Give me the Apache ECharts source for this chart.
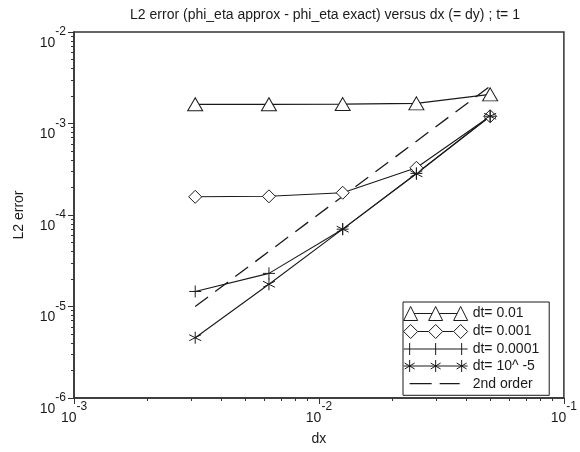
<!DOCTYPE html>
<html>
<head>
<meta charset="utf-8">
<script src="https://cdn.jsdelivr.net/npm/echarts@6/dist/echarts.min.js"></script>
<style>
  html, body { margin: 0; padding: 0; background: #fff; }
  #chart { width: 580px; height: 452px; }
</style>
</head>
<body>
<div id="chart"></div>
<script>
// grid spacing dx (= dy)
const dx = [0.003125, 0.00625, 0.0125, 0.025, 0.05];
// L2 error for each time step
const errDt001 = [1.62e-3, 1.62e-3, 1.63e-3, 1.66e-3, 2.08e-3];
const errDt0001 = [1.58e-4, 1.6e-4, 1.75e-4, 3.28e-4, 1.2e-3];
const errDt00001 = [1.46e-5, 2.3e-5, 7.0e-5, 2.85e-4, 1.2e-3];
const errDt1e5 = [4.56e-6, 1.75e-5, 7.0e-5, 2.82e-4, 1.2e-3];
// reference slope line
const order2X = [0.003125, 0.05];
const order2Y = [1.0e-5, 2.56e-3];

const xMajor = [1e-3, 1e-2, 1e-1];
const yMajor = [1e-6, 1e-5, 1e-4, 1e-3, 1e-2];
const xMinor = [2e-3, 3e-3, 4e-3, 5e-3, 6e-3, 7e-3, 8e-3, 9e-3,
                2e-2, 3e-2, 4e-2, 5e-2, 6e-2, 7e-2, 8e-2, 9e-2];
const yMinor = [2e-6, 3e-6, 4e-6, 5e-6, 6e-6, 7e-6, 8e-6, 9e-6,
                2e-5, 3e-5, 4e-5, 5e-5, 6e-5, 7e-5, 8e-5, 9e-5,
                2e-4, 3e-4, 4e-4, 5e-4, 6e-4, 7e-4, 8e-4, 9e-4,
                2e-3, 3e-3, 4e-3, 5e-3, 6e-3, 7e-3, 8e-3, 9e-3];

const seriesNames = ['dt= 0.01', 'dt= 0.001', 'dt= 0.0001', 'dt= 10^ -5', '2nd order'];

const pair = (xs, ys) => xs.map((x, i) => [x, ys[i]]);
const pow10 = v => '{b|10}{s|' + Math.round(Math.log10(v)) + '}';

const FONT = 'Liberation Sans';
const INK = '#1a1a1a';
const FRAME = '#333';

const plusPath = 'path://M0,6 L12,6 M6,0 L6,12';
const starPath = 'path://M6,0 L6,12 M0.8,3 L11.2,9 M11.2,3 L0.8,9';

const legTri = 'path://M7,0 L14,14 L0,14 Z M10.5,7 L28.5,7 M32,0 L39,14 L25,14 Z M35.5,7 L53.5,7 M57,0 L64,14 L50,14 Z';
const legDia = 'path://M7,0 L14,7 L7,14 L0,7 Z M14,7 L25,7 M32,0 L39,7 L32,14 L25,7 Z M39,7 L50,7 M57,0 L64,7 L57,14 L50,7 Z';
const legPlus = 'path://M0,7 L64,7 M6,1 L6,13 M32,1 L32,13 M58,1 L58,13';
const legStar = 'path://M0,7 L64,7 M6,1 L6,13 M1,4 L11,10 M11,4 L1,10 M32,1 L32,13 M27,4 L37,10 M37,4 L27,10 M58,1 L58,13 M53,4 L63,10 M63,4 L53,10';
const legDash = 'path://M0,0 M64,14 M6,7 L28,7 M36,7 L56,7';

const labelRich = {
  b: { fontSize: 14, fontFamily: FONT, color: INK, lineHeight: 24, verticalAlign: 'bottom' },
  s: { fontSize: 12, fontFamily: FONT, color: INK, lineHeight: 24, verticalAlign: 'top' }
};

function lineSeries(name, data, symbol, size) {
  return {
    name: name,
    type: 'line',
    data: data,
    symbol: symbol,
    symbolSize: size,
    showSymbol: true,
    lineStyle: { color: INK, width: 1.1 },
    itemStyle: { color: '#fff', borderColor: INK, borderWidth: 1 },
    emphasis: { disabled: true },
    animation: false
  };
}

const chart = echarts.init(document.getElementById('chart'), null, { renderer: 'canvas' });

chart.setOption({
  backgroundColor: '#fff',
  animation: false,
  title: {
    text: 'L2 error (phi_eta approx - phi_eta exact) versus dx (= dy) ; t= 1',
    left: 320, top: 3, textAlign: 'center',
    textStyle: { fontFamily: FONT, fontSize: 14, fontWeight: 'normal', color: INK }
  },
  grid: {
    left: 74, right: 15, top: 32, bottom: 54,
    show: true, borderColor: FRAME, borderWidth: 1.5, backgroundColor: 'transparent'
  },
  legend: {
    orient: 'vertical',
    left: 403, top: 302,
    padding: [4, 10, 4, 0],
    itemWidth: 64, itemHeight: 14, itemGap: 3,
    borderColor: INK, borderWidth: 1, backgroundColor: '#fff',
    selectedMode: false,
    textStyle: { fontFamily: FONT, fontSize: 14, color: INK, lineHeight: 14 },
    data: [
      { name: seriesNames[0], icon: legTri, itemStyle: { color: '#fff', borderColor: INK, borderWidth: 1 } },
      { name: seriesNames[1], icon: legDia, itemStyle: { color: '#fff', borderColor: INK, borderWidth: 1 } },
      { name: seriesNames[2], icon: legPlus, itemStyle: { color: '#fff', borderColor: INK, borderWidth: 1 } },
      { name: seriesNames[3], icon: legStar, itemStyle: { color: '#fff', borderColor: INK, borderWidth: 1 } },
      { name: seriesNames[4], icon: legDash, itemStyle: { color: '#fff', borderColor: INK, borderWidth: 1.3 } }
    ]
  },
  xAxis: [{
    type: 'log', logBase: 10, min: 1e-3, max: 1e-1,
    name: 'dx', nameLocation: 'middle', nameGap: 34,
    nameTextStyle: { fontFamily: FONT, fontSize: 14, color: INK },
    axisLine: { show: true, lineStyle: { color: FRAME, width: 1.5 } },
    axisTick: { show: true, inside: false, length: 6, customValues: xMajor, lineStyle: { color: FRAME } },
    axisLabel: { customValues: xMajor, margin: 3, formatter: pow10, rich: labelRich },
    splitLine: { show: false }
  }, {
    type: 'log', logBase: 10, min: 1e-3, max: 1e-1, position: 'bottom',
    axisLine: { show: false },
    axisTick: { show: true, inside: false, length: 3, customValues: xMinor, lineStyle: { color: FRAME } },
    axisLabel: { show: false },
    splitLine: { show: false }
  }],
  yAxis: [{
    type: 'log', logBase: 10, min: 1e-6, max: 1e-2,
    name: 'L2 error', nameLocation: 'middle', nameGap: 48,
    nameTextStyle: { fontFamily: FONT, fontSize: 14, color: INK },
    axisLine: { show: true, lineStyle: { color: FRAME, width: 1.5 } },
    axisTick: { show: true, inside: false, length: 6, customValues: yMajor, lineStyle: { color: FRAME } },
    axisLabel: { customValues: yMajor, margin: 8, formatter: pow10, rich: labelRich, padding: [12, 0, 0, 0] },
    splitLine: { show: false }
  }, {
    type: 'log', logBase: 10, min: 1e-6, max: 1e-2, position: 'left',
    axisLine: { show: false },
    axisTick: { show: true, inside: false, length: 3, customValues: yMinor, lineStyle: { color: FRAME } },
    axisLabel: { show: false },
    splitLine: { show: false }
  }],
  series: [
    lineSeries(seriesNames[4], pair(order2X, order2Y), 'none', 0),
    lineSeries(seriesNames[0], pair(dx, errDt001), 'triangle', [15, 13]),
    lineSeries(seriesNames[1], pair(dx, errDt0001), 'diamond', [13, 13]),
    lineSeries(seriesNames[2], pair(dx, errDt00001), plusPath, [12, 12]),
    lineSeries(seriesNames[3], pair(dx, errDt1e5), starPath, [12, 12])
  ]
});

// dashed reference line
chart.setOption({
  series: [{ name: seriesNames[4], lineStyle: { type: [16, 9], width: 1.3 } }]
});
</script>
</body>
</html>
